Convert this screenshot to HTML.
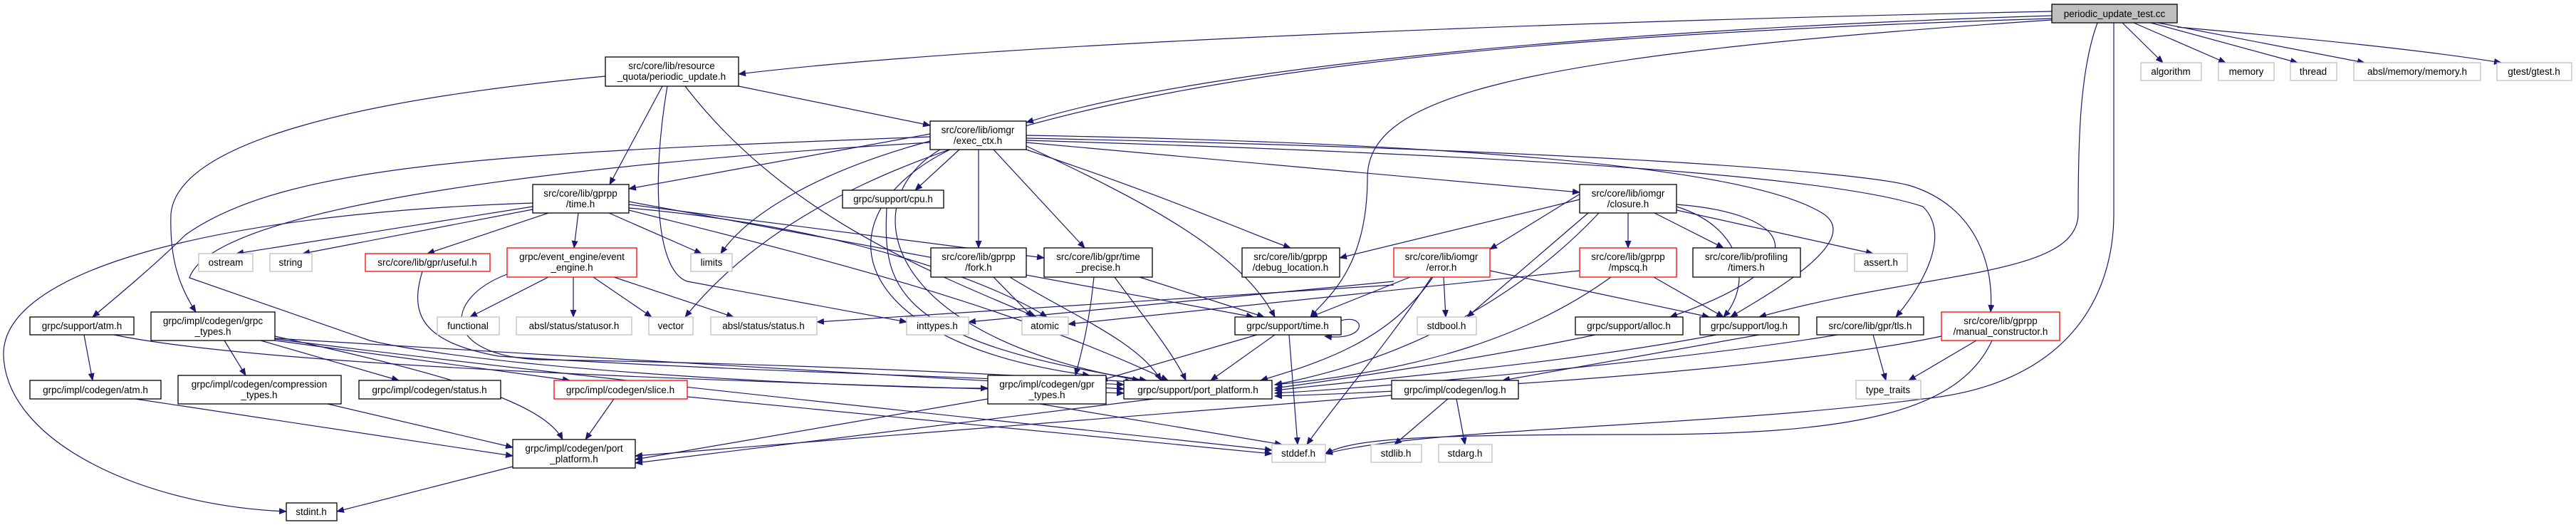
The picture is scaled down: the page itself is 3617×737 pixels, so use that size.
<!DOCTYPE html>
<html><head><meta charset="utf-8"><style>
html,body{margin:0;padding:0;background:#fff;}
svg{display:block;}
text{font-family:"Liberation Sans",sans-serif;font-size:13.5px;fill:#000;text-anchor:middle;}
.e{fill:none;stroke:#191970;stroke-width:1.2;marker-end:url(#a);}
.n{fill:#fff;stroke:#000;stroke-width:1.3;}
.g{fill:#fff;stroke:#bfbfbf;stroke-width:1.3;}
.r{fill:#fff;stroke:#ff0000;stroke-width:1.3;}
</style></head><body>
<svg width="3617" height="737" viewBox="0 0 3617 737" xmlns="http://www.w3.org/2000/svg">
<defs><marker id="a" markerUnits="userSpaceOnUse" markerWidth="11" markerHeight="9" refX="10" refY="4.5" orient="auto"><path d="M0,0 L11,4.5 L0,9 z" fill="#191970"/></marker></defs>

<!-- edges -->
<g>
<path class="e" d="M2881,16 C2200,30 1400,60 1037,104"/>
<path class="e" d="M2881,22 C2300,40 1700,90 1441,172"/>
<path class="e" d="M2881,26 C1800,60 1200,150 962,445"/>
<path class="e" d="M2881,28 C2100,80 1920,140 1920,250 C1920,380 1860,420 1840,445"/>
<path class="e" d="M2945,32 C2920,100 2918,200 2918,300 C2918,390 2700,380 2470,445"/>
<path class="e" d="M2968,32 L2968,300 C2968,420 2900,540 2700,560 C2400,600 2000,600 1861,637"/>
<path class="e" d="M2980,32 L3037,88"/>
<path class="e" d="M2996,32 L3125,88"/>
<path class="e" d="M3020,32 L3226,88"/>
<path class="e" d="M3030,32 L3320,88"/>
<path class="e" d="M3057,38 C3250,55 3400,70 3512,88"/>

<path class="e" d="M930,121 L856,259"/>
<path class="e" d="M1037,121 L1306,176"/>
<path class="e" d="M937,121 C915,250 920,380 965,395 L1273,452"/>
<path class="e" d="M962,121 C1100,300 1300,380 1455,445"/>
<path class="e" d="M850,107 C500,140 250,200 240,300 C238,360 250,400 275,438"/>
<path class="e" d="M1306,192 C700,215 400,230 260,330 C220,370 160,420 130,445"/>
<path class="e" d="M1306,200 C800,230 300,290 266,390 L519,478 C700,520 1200,545 1387,545"/>
<path class="e" d="M748,285 C300,300 0,380 5,500 C10,620 200,710 402,718"/>

<path class="e" d="M1306,188 L883,265"/>
<path class="e" d="M1347,210 L1285,267"/>
<path class="e" d="M1374,210 L1374,348"/>
<path class="e" d="M1395,210 L1523,348"/>
<path class="e" d="M1441,210 C1650,280 1760,330 1812,348"/>
<path class="e" d="M1441,200 L2218,270"/>
<path class="e" d="M1306,198 C1150,240 1050,300 1012,356"/>
<path class="e" d="M1334,210 C1150,300 1180,480 1530,527"/>
<path class="e" d="M1320,210 C1200,280 1230,470 1600,534"/>
<path class="e" d="M1441,190 C2000,200 2450,230 2560,300 C2620,340 2470,420 2430,445"/>
<path class="e" d="M1441,194 C2200,210 2600,240 2680,260 C2780,290 2800,380 2795,438"/>
<path class="e" d="M1441,197 C2200,220 2580,250 2700,290 C2740,330 2700,400 2662,445"/>
<path class="e" d="M1441,205 C1600,280 1740,350 1790,445"/>

<path class="e" d="M748,290 L332,356"/>
<path class="e" d="M748,294 L425,356"/>
<path class="e" d="M770,299 L600,356"/>
<path class="e" d="M812,299 L806,348"/>
<path class="e" d="M855,299 L985,356"/>
<path class="e" d="M883,283 L1760,445"/>
<path class="e" d="M883,287 L1466,362"/>
<path class="e" d="M883,295 C1100,350 1400,420 1640,534"/>
<path class="e" d="M883,292 C1200,320 1400,400 1470,445"/>

<path class="e" d="M593,381 C575,440 590,480 700,500 C1000,520 1400,530 1578,540"/>
<path class="e" d="M770,389 L660,445"/>
<path class="e" d="M805,389 L805,445"/>
<path class="e" d="M833,389 L915,445"/>
<path class="e" d="M862,389 L1030,445"/>
<path class="e" d="M712,385 C620,420 620,500 760,505 C1100,510 1400,525 1590,536"/>

<path class="e" d="M1395,389 L1450,445"/>
<path class="e" d="M1418,389 C1500,440 1600,480 1630,534"/>
<path class="e" d="M1536,389 C1530,450 1520,490 1510,527"/>
<path class="e" d="M1565,389 C1610,450 1650,500 1665,534"/>
<path class="e" d="M1600,389 L1775,445"/>
<path class="e" d="M1245,292 C1240,400 1250,480 1610,534"/>

<path class="e" d="M1980,389 L1840,445"/>
<path class="e" d="M2027,389 L2030,445"/>
<path class="e" d="M2012,389 C1950,480 1850,510 1770,534"/>
<path class="e" d="M2010,389 C1950,480 1880,560 1835,624"/>
<path class="e" d="M1957,400 L1147,452"/>
<path class="e" d="M1957,395 L1360,452"/>
<path class="e" d="M2092,380 L2400,445"/>

<path class="e" d="M2218,280 L1881,362"/>
<path class="e" d="M2240,259 L2092,350"/>
<path class="e" d="M2286,299 L2286,348"/>
<path class="e" d="M2323,299 L2420,348"/>
<path class="e" d="M2354,295 L2630,356"/>
<path class="e" d="M2230,299 L2060,445"/>
<path class="e" d="M2245,299 C2150,400 2000,500 1790,540"/>
<path class="e" d="M2354,287 C2520,300 2560,370 2345,445"/>
<path class="e" d="M2354,290 C2450,320 2460,400 2420,445"/>

<path class="e" d="M2322,389 L2420,445"/>
<path class="e" d="M2218,380 L1500,455"/>
<path class="e" d="M2262,389 C2150,470 2000,520 1790,540"/>

<path class="e" d="M1883,450 C1920,440 1920,480 1860,472"/>
<path class="e" d="M1765,470 L1545,534"/>
<path class="e" d="M1790,470 L1700,534"/>
<path class="e" d="M1810,470 L1822,624"/>

<path class="e" d="M2240,470 C2100,500 1900,530 1790,545"/>
<path class="e" d="M2410,470 C2200,510 1950,530 1790,548"/>
<path class="e" d="M2470,470 L2110,534"/>
<path class="e" d="M2580,470 C2400,500 2000,540 1790,552"/>
<path class="e" d="M2630,470 L2648,534"/>
<path class="e" d="M2775,478 L2680,534"/>
<path class="e" d="M2726,472 C2500,520 2000,550 1790,556"/>
<path class="e" d="M2797,478 C2750,580 2600,610 2300,610 C2000,610 1900,615 1861,637"/>

<path class="e" d="M1954,555 L892,640"/>
<path class="e" d="M2033,560 L1958,624"/>
<path class="e" d="M2045,560 L2057,624"/>

<path class="e" d="M118,470 L130,534"/>
<path class="e" d="M160,470 C400,520 1200,540 1578,552"/>
<path class="e" d="M315,478 L345,527"/>
<path class="e" d="M366,478 L560,534"/>
<path class="e" d="M386,475 C800,500 1300,530 1578,546"/>
<path class="e" d="M386,478 L800,534"/>
<path class="e" d="M386,472 C600,520 760,560 790,617"/>
<path class="e" d="M386,476 C900,540 1500,600 1786,632"/>

<path class="e" d="M190,560 L720,640"/>
<path class="e" d="M460,567 L720,628"/>
<path class="e" d="M862,560 L822,617"/>
<path class="e" d="M965,557 L1786,637"/>
<path class="e" d="M1387,560 L892,645"/>
<path class="e" d="M1460,567 L1800,624"/>
<path class="e" d="M1620,560 L892,650"/>
<path class="e" d="M720,655 L473,718"/>
</g>

<!-- nodes -->
<rect x="2881" y="6" width="176" height="26" fill="#bfbfbf" stroke="#000" stroke-width="1.3"/><text x="2969" y="24">periodic_update_test.cc</text>
<rect class="g" x="3006" y="88" width="85" height="25"/><text x="3048" y="105">algorithm</text>
<rect class="g" x="3115" y="88" width="78" height="25"/><text x="3154" y="105">memory</text>
<rect class="g" x="3216" y="88" width="65" height="25"/><text x="3248" y="105">thread</text>
<rect class="g" x="3305" y="88" width="178" height="25"/><text x="3394" y="105">absl/memory/memory.h</text>
<rect class="g" x="3506" y="88" width="105" height="25"/><text x="3558" y="105">gtest/gtest.h</text>

<rect class="n" x="850" y="80" width="187" height="41"/><text x="943" y="97">src/core/lib/resource</text><text x="943" y="112">_quota/periodic_update.h</text>
<rect class="n" x="1306" y="170" width="135" height="40"/><text x="1373" y="187">src/core/lib/iomgr</text><text x="1373" y="202">/exec_ctx.h</text>
<rect class="n" x="748" y="259" width="135" height="40"/><text x="815" y="276">src/core/lib/gprpp</text><text x="815" y="291">/time.h</text>
<rect class="n" x="1183" y="267" width="142" height="25"/><text x="1254" y="284">grpc/support/cpu.h</text>
<rect class="n" x="2218" y="259" width="136" height="40"/><text x="2286" y="276">src/core/lib/iomgr</text><text x="2286" y="291">/closure.h</text>

<rect class="g" x="279" y="356" width="76" height="25"/><text x="317" y="373">ostream</text>
<rect class="g" x="379" y="356" width="59" height="25"/><text x="408" y="373">string</text>
<rect class="r" x="513" y="356" width="175" height="25"/><text x="600" y="373">src/core/lib/gpr/useful.h</text>
<rect class="r" x="712" y="348" width="182" height="41"/><text x="803" y="365">grpc/event_engine/event</text><text x="803" y="380">_engine.h</text>
<rect class="g" x="970" y="356" width="58" height="25"/><text x="999" y="373">limits</text>
<rect class="n" x="1307" y="348" width="134" height="41"/><text x="1374" y="365">src/core/lib/gprpp</text><text x="1374" y="380">/fork.h</text>
<rect class="n" x="1466" y="348" width="152" height="41"/><text x="1542" y="365">src/core/lib/gpr/time</text><text x="1542" y="380">_precise.h</text>
<rect class="n" x="1744" y="348" width="137" height="41"/><text x="1812" y="365">src/core/lib/gprpp</text><text x="1812" y="380">/debug_location.h</text>
<rect class="r" x="1957" y="348" width="135" height="41"/><text x="2024" y="365">src/core/lib/iomgr</text><text x="2024" y="380">/error.h</text>
<rect class="r" x="2218" y="348" width="136" height="41"/><text x="2286" y="365">src/core/lib/gprpp</text><text x="2286" y="380">/mpscq.h</text>
<rect class="n" x="2377" y="348" width="151" height="41"/><text x="2452" y="365">src/core/lib/profiling</text><text x="2452" y="380">/timers.h</text>
<rect class="g" x="2604" y="356" width="74" height="25"/><text x="2641" y="373">assert.h</text>

<rect class="n" x="42" y="445" width="146" height="25"/><text x="115" y="462">grpc/support/atm.h</text>
<rect class="n" x="212" y="438" width="174" height="40"/><text x="299" y="455">grpc/impl/codegen/grpc</text><text x="299" y="470">_types.h</text>
<rect class="g" x="614" y="445" width="87" height="25"/><text x="657" y="462">functional</text>
<rect class="g" x="725" y="445" width="162" height="25"/><text x="806" y="462">absl/status/statusor.h</text>
<rect class="g" x="911" y="445" width="62" height="25"/><text x="942" y="462">vector</text>
<rect class="g" x="998" y="445" width="149" height="25"/><text x="1072" y="462">absl/status/status.h</text>
<rect class="g" x="1273" y="445" width="87" height="25"/><text x="1316" y="462">inttypes.h</text>
<rect class="g" x="1435" y="445" width="65" height="25"/><text x="1467" y="462">atomic</text>
<rect class="n" x="1734" y="445" width="149" height="25"/><text x="1808" y="462">grpc/support/time.h</text>
<rect class="g" x="1990" y="445" width="83" height="25"/><text x="2031" y="462">stdbool.h</text>
<rect class="n" x="2212" y="445" width="151" height="25"/><text x="2287" y="462">grpc/support/alloc.h</text>
<rect class="n" x="2387" y="445" width="139" height="25"/><text x="2456" y="462">grpc/support/log.h</text>
<rect class="n" x="2551" y="445" width="150" height="25"/><text x="2626" y="462">src/core/lib/gpr/tls.h</text>
<rect class="r" x="2726" y="438" width="166" height="40"/><text x="2809" y="455">src/core/lib/gprpp</text><text x="2809" y="470">/manual_constructor.h</text>

<rect class="n" x="42" y="534" width="184" height="26"/><text x="134" y="552">grpc/impl/codegen/atm.h</text>
<rect class="n" x="250" y="527" width="229" height="40"/><text x="364" y="544">grpc/impl/codegen/compression</text><text x="364" y="559">_types.h</text>
<rect class="n" x="504" y="534" width="199" height="26"/><text x="603" y="552">grpc/impl/codegen/status.h</text>
<rect class="r" x="778" y="534" width="187" height="26"/><text x="871" y="552">grpc/impl/codegen/slice.h</text>
<rect class="n" x="1387" y="527" width="166" height="40"/><text x="1470" y="544">grpc/impl/codegen/gpr</text><text x="1470" y="559">_types.h</text>
<rect class="n" x="1578" y="534" width="208" height="26"/><text x="1682" y="552">grpc/support/port_platform.h</text>
<rect class="n" x="1954" y="534" width="178" height="26"/><text x="2043" y="552">grpc/impl/codegen/log.h</text>
<rect class="g" x="2606" y="534" width="91" height="26"/><text x="2651" y="552">type_traits</text>

<rect class="n" x="720" y="617" width="172" height="40"/><text x="806" y="634">grpc/impl/codegen/port</text><text x="806" y="649">_platform.h</text>
<rect class="g" x="1786" y="624" width="75" height="25"/><text x="1823" y="641">stddef.h</text>
<rect class="g" x="1925" y="624" width="71" height="25"/><text x="1960" y="641">stdlib.h</text>
<rect class="g" x="2020" y="624" width="75" height="25"/><text x="2057" y="641">stdarg.h</text>
<rect class="n" x="402" y="706" width="71" height="25"/><text x="437" y="723">stdint.h</text>
</svg>
</body></html>
